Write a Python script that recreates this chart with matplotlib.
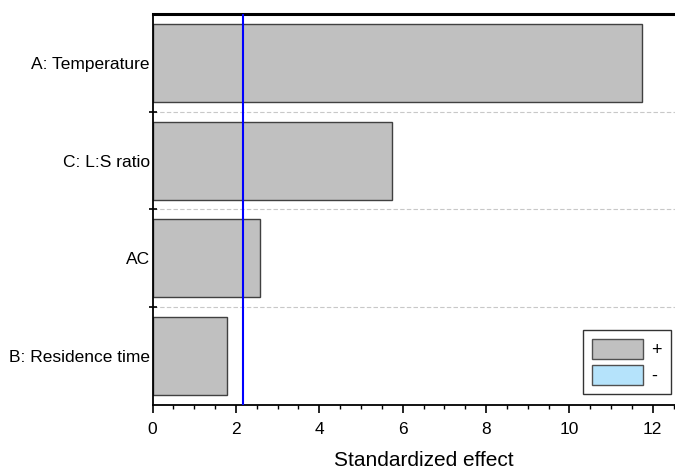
import numpy as np
import matplotlib.pyplot as plt
from matplotlib.patches import Patch
from matplotlib.ticker import MultipleLocator, FixedLocator

plt.rcParams['font.family'] = ['Liberation Sans', 'DejaVu Sans']

# effects, top to bottom
terms = ['A: Temperature', 'C: L:S ratio', 'AC', 'B: Residence time']
effects = [11.75, 5.74, 2.58, 1.79]
t_crit = 2.16

fig = plt.figure(figsize=(6.75, 4.7), dpi=100)
# axes runs a little past the right edge of the figure
ax = fig.add_axes([152.5 / 675, 65 / 470, 542 / 675, 391 / 470])

n = len(terms)
ypos = np.arange(n)[::-1]
ax.barh(ypos, effects, height=0.8, color='#c0c0c0', edgecolor='#404040',
        linewidth=1.0, zorder=2)
ax.axvline(t_crit, color='#0000ff', linewidth=1.5, zorder=3)

ax.set_xlim(0, 13)
ax.set_ylim(-0.5, n - 0.5)

ax.xaxis.set_major_locator(MultipleLocator(2))
ax.xaxis.set_minor_locator(MultipleLocator(0.5))
ax.tick_params(axis='x', which='major', direction='out', length=6, width=1.2,
               labelsize=12.5, pad=6, top=False)
ax.tick_params(axis='x', which='minor', direction='out', length=3, width=1.0, top=False)

ax.set_yticks(ypos)
ax.set_yticklabels(terms)
ax.yaxis.set_minor_locator(FixedLocator(np.arange(n - 1) + 0.5))
ax.tick_params(axis='y', which='major', length=0, pad=2, labelsize=12.5)
ax.tick_params(axis='y', which='minor', direction='inout', length=6, width=1.2)
ax.grid(axis='y', which='minor', color='#c8c8c8', linestyle='--',
        linewidth=0.8, dashes=(4, 2))
ax.set_axisbelow(True)

for side in ['left', 'bottom']:
    ax.spines[side].set_linewidth(1.3)
ax.spines['top'].set_linewidth(2.2)
ax.spines['right'].set_visible(False)

ax.set_xlabel('Standardized effect', fontsize=15, labelpad=10)

handles = [Patch(facecolor='#c0c0c0', edgecolor='#505050', label='+'),
           Patch(facecolor='#b5e3fb', edgecolor='#505050', label='-')]
fig.legend(handles=handles, loc='lower left',
           bbox_to_anchor=(583 / 675, (470 - 394) / 470),
           borderaxespad=0, frameon=True, fancybox=False, edgecolor='black',
           fontsize=13, handlelength=2.8, handleheight=1.35, handletextpad=0.5,
           labelspacing=0.3, borderpad=0.5)

fig.savefig('out.png', dpi=100)
